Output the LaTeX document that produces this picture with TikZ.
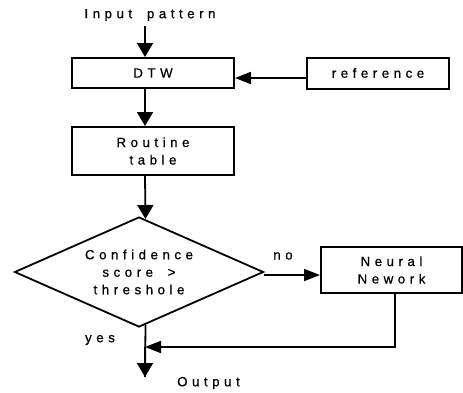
\documentclass[tikz,border=0pt]{standalone}
\usepackage{fontspec}
\setmainfont{Liberation Sans}[LetterSpace=34, FakeBold=0.6, WordSpace=1.8]
\usetikzlibrary{arrows.meta,shapes.geometric,calc}

\begin{document}
\begin{tikzpicture}[x=1pt,y=-1pt,
    lbl/.style={font=\fontsize{13.3}{17.5}\selectfont, inner sep=1pt, align=center},
    procbox/.style={lbl, draw, line width=2pt, inner sep=0pt},
    decision/.style={lbl, draw, line width=1.8pt, shape=diamond, aspect=2.26,
                     minimum width=249pt, minimum height=110pt, inner sep=0pt},
    flow/.style={line width=1.8pt},
    varrow/.style={flow, -{Triangle[length=14pt,width=16pt]}},
    harrow/.style={flow, -{Triangle[length=16pt,width=12pt]}}]

  \useasboundingbox (0,0) rectangle (463,392);

  % main flow spine
  \coordinate (spine) at (145,0);

  \node[lbl] (input) at (150,15) {Input pattern};
  \node[procbox, minimum width=162pt, minimum height=30pt] (dtw) at (153,73) {DTW};
  \node[procbox, minimum width=142pt, minimum height=31pt] (ref) at (378,73) {reference};
  \node[procbox, minimum width=162pt, minimum height=48pt] (routine) at (153,151) {Routine\\table};
  \node[decision] (cond) at (139,272) {Confidence\\score \textgreater\\threshole};
  \node[procbox, minimum width=141pt, minimum height=46pt] (neural) at (391.5,270) {Neural\\Nework};

  \node[lbl] (no) at (283,256) {no};
  \node[lbl] (yes) at (100,340) {yes};
  \node[lbl, anchor=west] (output) at (176,383) {Output};

  \coordinate (join) at (145,347);
  \coordinate (outtip) at (145,377);

  % connectors (canvas yshift is upward, so negative shifts move down)
  \draw[varrow] ([yshift=-4pt]input.south -| spine) -- (dtw.north -| spine);
  \draw[harrow] ([yshift=-5pt]ref.west) -- ([yshift=-5pt]dtw.east);
  \draw[varrow] (dtw.south -| spine) -- (routine.north -| spine);
  \draw[varrow] (routine.south -| spine) -- (cond.83.5);
  \draw[harrow] ([yshift=-3pt]cond.east) -- ([yshift=-5pt]neural.west);
  \draw[flow] (cond.-83.5) -- (outtip);
  \draw[varrow] (join) -- (outtip);
  \draw[harrow] ([xshift=3.5pt]neural.south) |- (join);
\end{tikzpicture}
\end{document}
